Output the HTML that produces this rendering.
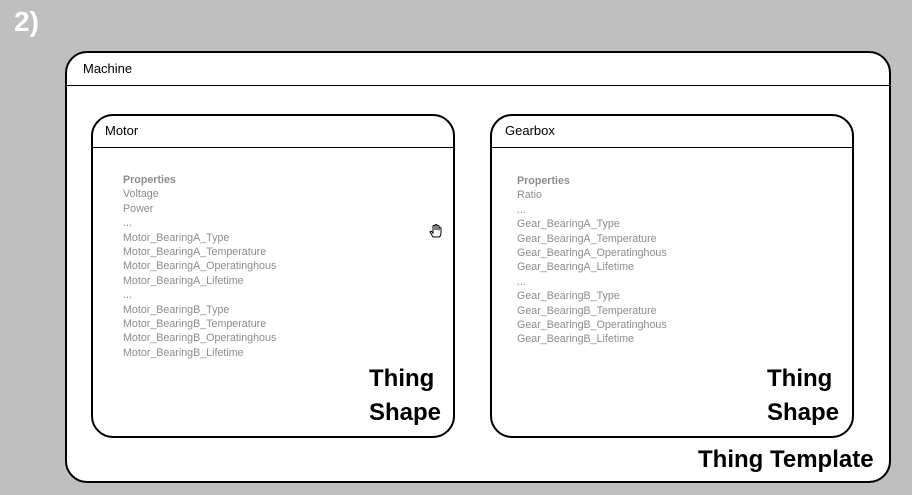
<!DOCTYPE html>
<html><head><meta charset="utf-8"><style>
body{margin:0;width:912px;height:495px;background:#bfbfbf;position:relative;overflow:hidden;font-family:"Liberation Sans",sans-serif}
.a{position:absolute;box-sizing:border-box}
.box{border:2px solid #000;background:#fff}
.hl{position:absolute;height:1px;background:#000}
.t{position:absolute;font-size:13px;color:#000}
.p{position:absolute;font-size:10.7px;line-height:14.4px;color:#8c8c8c}
.big{position:absolute;font-weight:bold;font-size:24px;line-height:34px;color:#000}
</style></head><body>
<div class="a" style="left:14px;top:6px;font-size:28px;font-weight:bold;color:#fff">2)</div>
<div class="a box" style="left:65px;top:51px;width:826px;height:432px;border-radius:22px"></div>
<div class="hl" style="left:66px;top:85px;width:824px"></div>
<div class="t" style="left:83px;top:61px">Machine</div>

<div class="a box" style="left:91px;top:114px;width:364px;height:324px;border-radius:22px"></div>
<div class="hl" style="left:92px;top:147px;width:362px"></div>
<div class="t" style="left:105px;top:123px">Motor</div>
<div class="p" style="left:123px;top:173px"><b>Properties</b><br>Voltage<br>Power<br>...<br>Motor_BearingA_Type<br>Motor_BearingA_Temperature<br>Motor_BearingA_Operatinghous<br>Motor_BearingA_Lifetime<br>...<br>Motor_BearingB_Type<br>Motor_BearingB_Temperature<br>Motor_BearingB_Operatinghous<br>Motor_BearingB_Lifetime</div>
<div class="big" style="left:369px;top:362px">Thing<br>Shape</div>
<svg class="a" style="left:428px;top:223px" width="16" height="16" viewBox="0 0 16 16"><path d="M5 14 L2 9 Q2 8 3.5 8.5 L5 10 V3 Q6 2 7 3 V7 V2 Q8 1 9 2 V7 V3 Q10 2 11 3 V7.5 V5 Q12 4 13 5 V10 Q13 13 11 14 Z" fill="#fff" stroke="#000" stroke-width="1"/></svg>

<div class="a box" style="left:490px;top:114px;width:364px;height:324px;border-radius:22px"></div>
<div class="hl" style="left:491px;top:147px;width:362px"></div>
<div class="t" style="left:505px;top:123px">Gearbox</div>
<div class="p" style="left:517px;top:174px"><b>Properties</b><br>Ratio<br>...<br>Gear_BearingA_Type<br>Gear_BearingA_Temperature<br>Gear_BearingA_Operatinghous<br>Gear_BearingA_Lifetime<br>...<br>Gear_BearingB_Type<br>Gear_BearingB_Temperature<br>Gear_BearingB_Operatinghous<br>Gear_BearingB_Lifetime</div>
<div class="big" style="left:767px;top:362px">Thing<br>Shape</div>

<div class="big" style="left:698px;top:443px">Thing Template</div>
</body></html>
